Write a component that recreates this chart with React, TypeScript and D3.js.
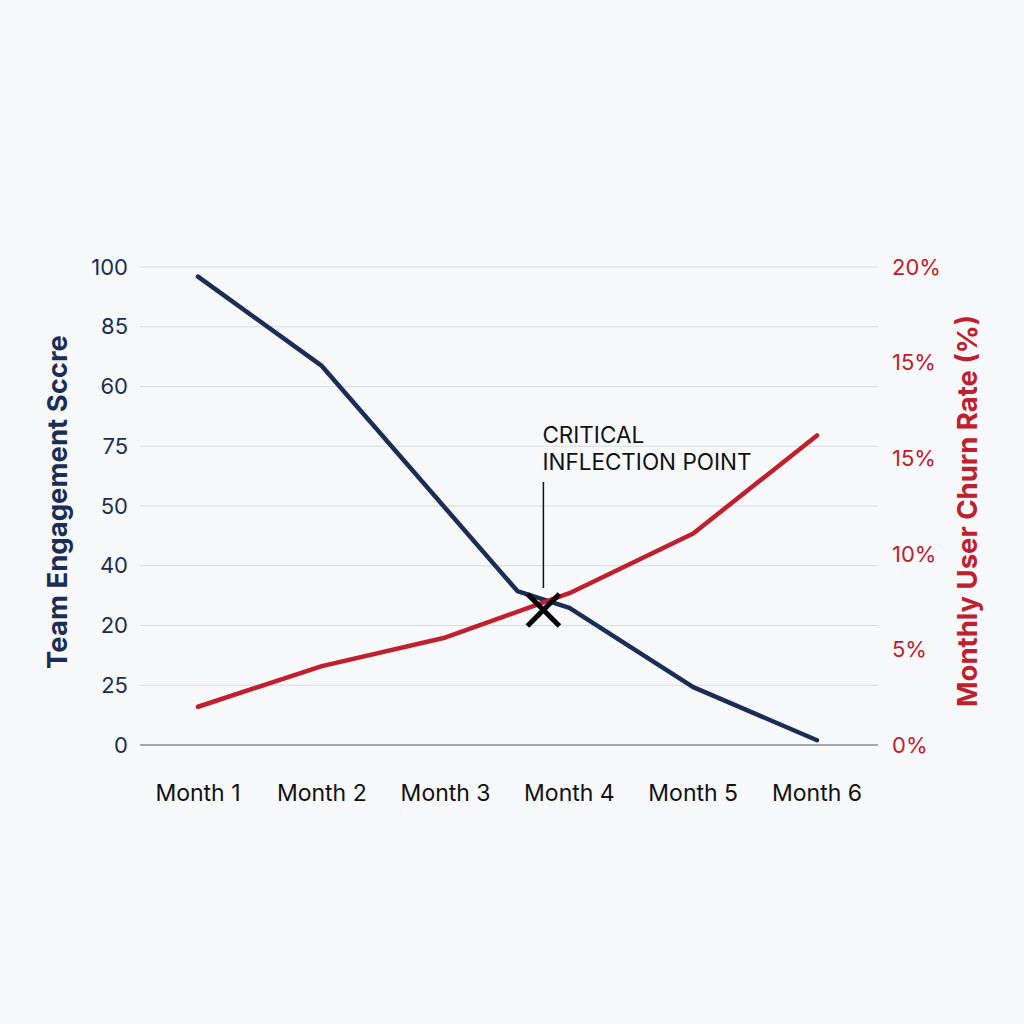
import React from "react";
import * as d3 from "d3";

const months = ["Month 1", "Month 2", "Month 3", "Month 4", "Month 5", "Month 6"];
const leftTickLabels = ["0", "25", "20", "40", "50", "75", "60", "85", "100"];
const rightTickLabels = ["0%", "5%", "10%", "15%", "15%", "20%"];
// engagement line: month position (0-based) and score
const engagementX = [0, 1, 2.58, 3, 4, 5];
const engagementValues = [98, 79.3, 32.2, 28.7, 12.1, 1];
// churn line
const churnX = [0, 1, 2, 3, 4, 5];
const churnValues = [1.6, 3.3, 4.5, 6.35, 8.85, 12.95];
const inflection = { x: 2.79, churn: 5.65 };

const NAVY = "#1b2d55";
const RED = "#c0202e";

export default function App() {
  const x = d3.scaleLinear().domain([0, 5]).range([198, 817]);
  const yL = d3.scaleLinear().domain([0, 100]).range([745, 267]);
  const yR = d3.scaleLinear().domain([0, 20]).range([745, 267]);
  const plotLeft = 140;
  const plotRight = 878;

  const blueLine = d3
    .line<number>()
    .x((_, i) => x(engagementX[i]))
    .y((d) => yL(d));
  const redLine = d3
    .line<number>()
    .x((_, i) => x(churnX[i]))
    .y((d) => yR(d));

  const leftTicks = leftTickLabels.map((l, i) => ({ l, v: (i * 100) / (leftTickLabels.length - 1) }));
  const rightTicks = rightTickLabels.map((l, i) => ({ l, v: (i * 20) / (rightTickLabels.length - 1) }));

  const mx = x(inflection.x);
  const my = yR(inflection.churn);
  const s = 16;
  const font = "Inter, 'Noto Sans', sans-serif";

  return (
    <div style={{ position: "fixed", left: 0, top: 0, width: 1024, height: 1024 }}>
      <svg width={1024} height={1024} style={{ display: "block" }} fontFamily={font}>
        <rect width={1024} height={1024} fill="#f8f9fb" />
        {leftTicks.map((t, i) => (
          <g key={i}>
            <line
              x1={plotLeft}
              x2={plotRight}
              y1={yL(t.v)}
              y2={yL(t.v)}
              stroke={i === 0 ? "#8a8f98" : "#d8dbe0"}
              strokeWidth={i === 0 ? 1.5 : 1.2}
            />
            <text x={128} y={yL(t.v)} dy="0.35em" textAnchor="end" fontSize={22} fill={NAVY}>
              {t.l}
            </text>
          </g>
        ))}
        {rightTicks.map((t, i) => (
          <text key={i} x={892} y={yR(t.v)} dy="0.35em" textAnchor="start" fontSize={22} fill={RED}>
            {t.l}
          </text>
        ))}
        {months.map((m, i) => (
          <text key={m} x={x(i)} y={793} dy="0.35em" textAnchor="middle" fontSize={23} fill="#111">
            {m}
          </text>
        ))}
        <text
          transform={`translate(57,502) rotate(-90)`}
          textAnchor="middle"
          dy="0.35em"
          fontSize={27.5}
          fontWeight="bold"
          fill={NAVY}
        >
          Team Engagement Sccre
        </text>
        <text
          transform={`translate(967,511) rotate(-90)`}
          textAnchor="middle"
          dy="0.35em"
          fontSize={27.5}
          fontWeight="bold"
          fill={RED}
        >
          Monthly User Churn Rate (%)
        </text>
        <path d={blueLine(engagementValues) || ""} fill="none" stroke={NAVY} strokeWidth={4.5} strokeLinejoin="round" strokeLinecap="round" />
        <path d={redLine(churnValues) || ""} fill="none" stroke={RED} strokeWidth={4.5} strokeLinejoin="round" strokeLinecap="round" />
        <line x1={mx} x2={mx} y1={482} y2={588} stroke="#111" strokeWidth={1.5} />
        <g stroke="#000" strokeWidth={5}>
          <line x1={mx - s} y1={my - s} x2={mx + s} y2={my + s} />
          <line x1={mx - s} y1={my + s} x2={mx + s} y2={my - s} />
        </g>
        <text x={mx - 1} y={443} fontSize={22.5} fill="#111">CRITICAL</text>
        <text x={mx - 1} y={470} fontSize={22.5} fill="#111">INFLECTION POINT</text>
      </svg>
    </div>
  );
}
